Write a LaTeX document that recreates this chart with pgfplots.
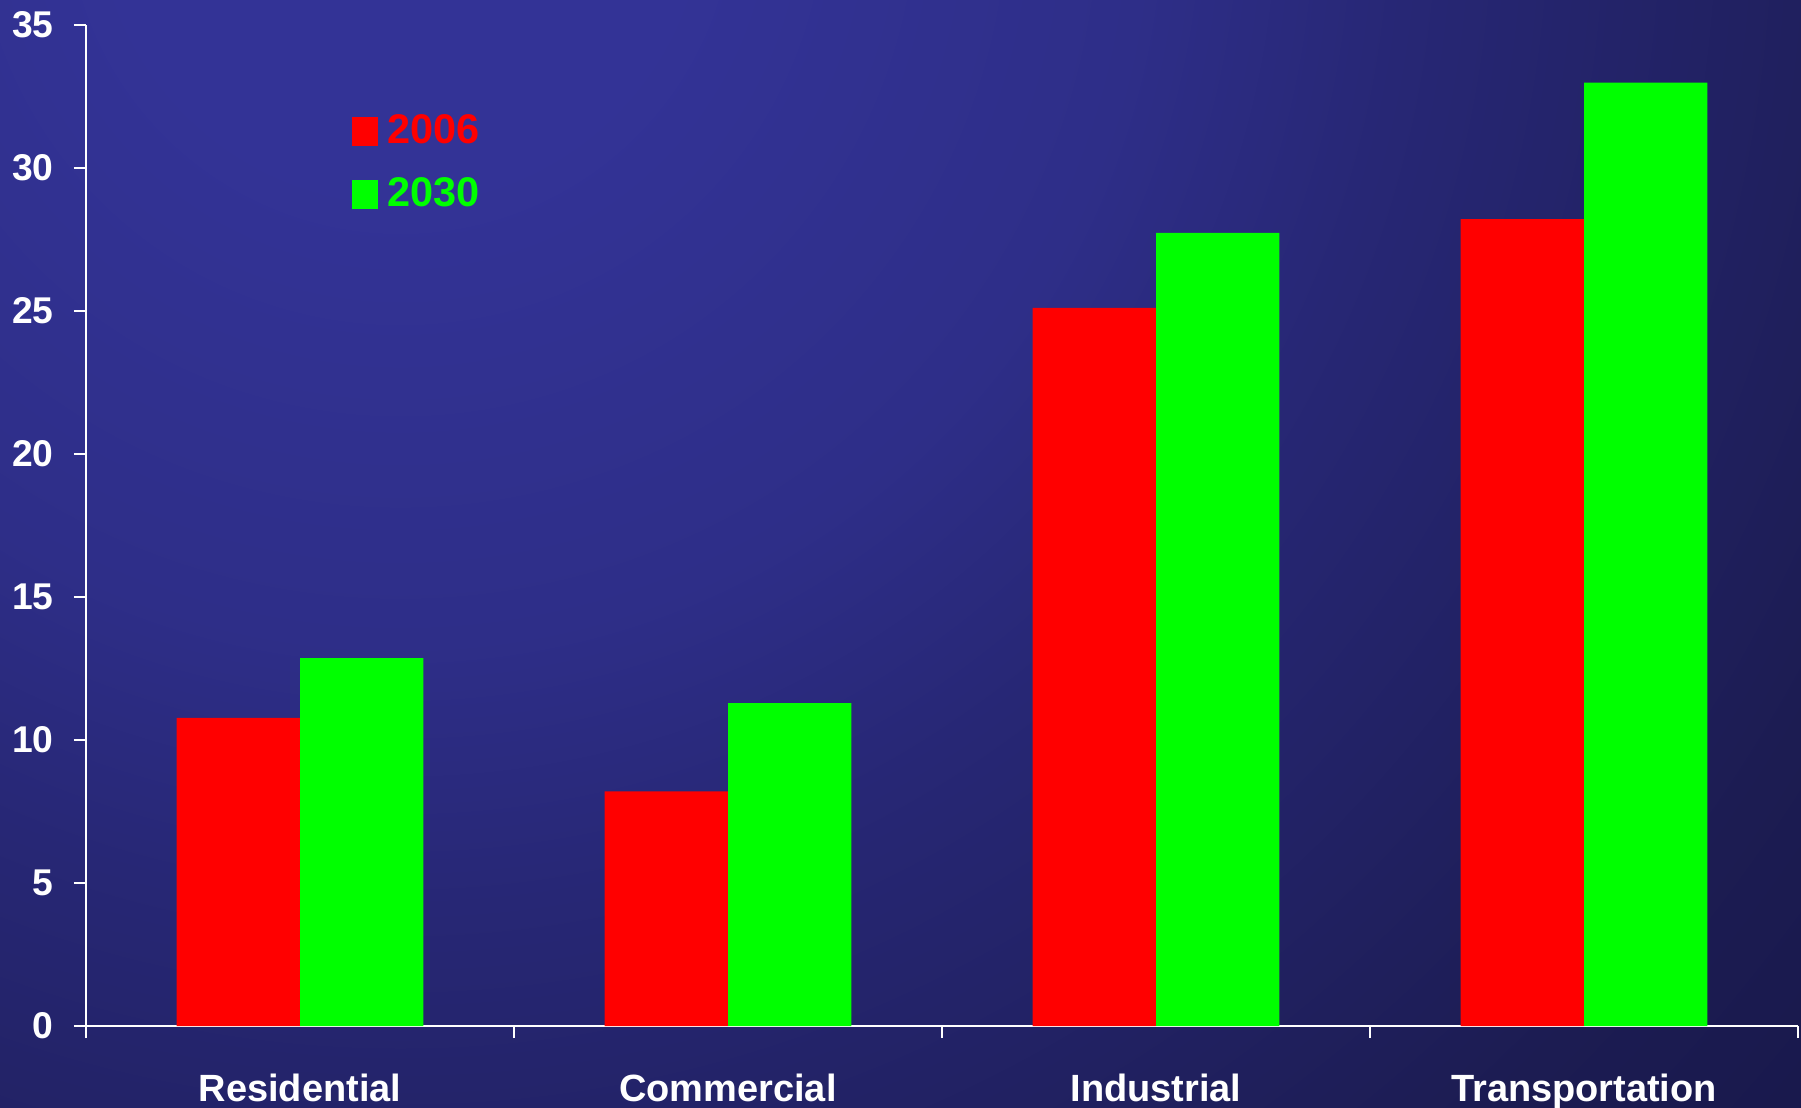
\documentclass[border=0pt]{standalone}
\usepackage{pgfplots}
\pgfplotsset{compat=1.18}
\usepackage{fontspec}
\setmainfont{Liberation Sans}
\definecolor{bgA}{RGB}{51,51,150}
\definecolor{bgB}{RGB}{46,46,136}
\definecolor{bgC}{RGB}{39,39,117}
\definecolor{bgD}{RGB}{28,28,82}
\definecolor{bgE}{RGB}{23,23,74}
\definecolor{bgF}{RGB}{22,22,70}
\definecolor{barred}{RGB}{255,0,0}
\definecolor{bargreen}{RGB}{0,255,0}
\pgfdeclareradialshading{bgshade}{\pgfpoint{0bp}{0bp}}{%
  color(0bp)=(bgA); color(3.6bp)=(bgA); color(9.3bp)=(bgB); color(12.6bp)=(bgC);
  color(20.3bp)=(bgD); color(24.6bp)=(bgE); color(36bp)=(bgF); color(50bp)=(bgF)}
\begin{document}
\begin{tikzpicture}[x=1cm,y=1cm]
\path[use as bounding box] (0,0) rectangle (18.01,11.07);
\begin{scope}
  \clip (0,0) rectangle (18.01,11.07);
  \shade[shading=bgshade] (-16,-7.93) rectangle (24,32.07);
\end{scope}
\begin{axis}[
  at={(0.86cm,0.81cm)}, anchor=south west,
  scale only axis, width=17.12cm, height=10.01cm,
  xmin=0.5, xmax=4.5, ymin=0, ymax=35,
  axis x line*=bottom, axis y line*=left,
  axis line style={white, line width=0.6pt},
  ytick={0,5,...,35},
  xtick={1,2,3,4},
  xticklabels={Residential,Commercial,Industrial,Transportation},
  minor xtick={0.5,1.5,2.5,3.5,4.5},
  tick align=outside,
  major tick length=1.2mm, minor tick length=1.2mm,
  tick style={white, line width=0.6pt},
  major x tick style={draw=none},
  /pgf/number format/assume math mode=true,
  ticklabel style={font=\fontsize{10.6}{12}\selectfont\bfseries, text=white},
  xticklabel style={font=\fontsize{10.8}{12}\selectfont\bfseries, yshift=-2.35mm},
  yticklabel style={xshift=-0.8mm},
  legend image code/.code={\fill[#1] (0mm,-1.45mm) rectangle (2.6mm,1.45mm);},
  legend style={draw=none, fill=none, at={(0.1548,0.911)}, anchor=north west,
    inner sep=0pt, row sep=2.85mm, column sep=1mm,
    font=\fontsize{11.8}{13}\selectfont\bfseries, nodes={inner sep=0pt}},
  legend cell align=left,
]
\addplot[ybar, bar width=0.288, bar shift=-0.144, fill=barred, draw=none]
  coordinates {(1,10.77) (2,8.2) (3,25.11) (4,28.21)};
\addlegendentry{\textcolor{barred}{2006}}
\addplot[ybar, bar width=0.288, bar shift=0.144, fill=bargreen, draw=none]
  coordinates {(1,12.86) (2,11.29) (3,27.73) (4,32.99)};
\addlegendentry{\textcolor{bargreen}{2030}}
\end{axis}
\end{tikzpicture}
\end{document}
